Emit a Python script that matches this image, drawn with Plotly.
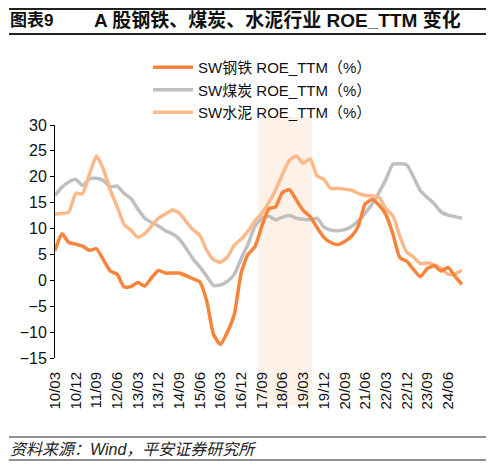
import pandas as pd
import plotly.graph_objects as go

# quarterly ROE_TTM (%), 2010-03 .. 2024-12
dates = pd.date_range("2010-03-01", "2024-12-01", freq="3MS")

steel = [5.7, 9.0, 7.3, 7.0, 6.6, 5.8, 6.1, 4.0, 1.8, 1.2,
         -1.3, -1.2, -0.4, -1.1, 0.5, 1.9, 1.4, 1.4, 1.4, 0.9,
         0.3, -0.3, -4.0, -10.5, -12.4, -10.0, -6.5, 1.5, 5.0, 6.5,
         10.5, 13.8, 14.2, 17.0, 17.5, 15.5, 13.5, 12.3, 10.2, 8.3,
         7.3, 6.9, 7.5, 8.5, 10.5, 14.8, 15.6, 14.5, 12.7, 9.0,
         4.4, 3.7, 2.1, 0.7, 2.3, 2.8, 1.8, 2.5, 0.8, -0.8]

coal = [16.4, 18.0, 19.0, 19.5, 18.3, 19.6, 19.7, 19.3, 18.1, 18.2,
        16.8, 15.8, 13.8, 12.0, 11.2, 10.5, 9.6, 9.0, 8.0, 6.2,
        4.2, 2.6, 0.8, -1.0, -0.9, -0.2, 1.2, 4.2, 7.0, 10.5,
        12.0, 12.4, 11.7, 12.2, 12.5, 12.0, 11.8, 11.7, 12.0, 10.3,
        9.7, 9.6, 9.8, 10.4, 11.5, 13.0, 14.8, 17.0, 19.5, 22.4,
        22.5, 22.3, 20.0, 17.3, 16.0, 14.8, 13.2, 12.6, 12.3, 12.0]

cement = [12.8, 12.9, 13.2, 16.8, 16.7, 20.5, 24.0, 21.5, 17.5, 14.2,
          10.8, 9.7, 8.3, 9.0, 10.5, 12.0, 12.8, 13.6, 13.0, 11.4,
          9.8, 8.7, 5.8, 4.0, 3.5, 4.5, 6.8, 8.0, 9.5, 11.5,
          13.0, 15.0, 17.5, 20.5, 23.2, 24.0, 22.6, 23.5, 20.2, 19.5,
          17.7, 17.8, 17.6, 17.4, 16.8, 16.4, 16.3, 16.0, 13.8, 12.5,
          8.5, 5.5, 4.5, 3.2, 3.4, 3.0, 2.3, 1.2, 1.2, 2.0]

names = ["SW钢铁 ROE_TTM（%）", "SW煤炭 ROE_TTM（%）", "SW水泥 ROE_TTM（%）"]
colors = ["#F7843A", "#BFBFBF", "#FBB98A"]

# page has the default 8px body margin, so the figure is drawn 8px in
OFF = 8
W, H = 494 - OFF, 468 - OFF
L, R, T, B = 47, 28, 117, 110
FONT = "Liberation Sans, Arial, Noto Sans CJK SC, sans-serif"


def px(x):
    # page x -> paper fraction
    return (x - OFF - L) / (W - L - R)


def py(y):
    # page y -> paper fraction
    return (H - B - (y - OFF)) / (H - T - B)


fig = go.Figure()

# coal under, then cement, steel on top; legend keeps steel/coal/cement
for ys, name, color, rank in [(coal, names[1], colors[1], 2),
                              (cement, names[2], colors[2], 3),
                              (steel, names[0], colors[0], 1)]:
    fig.add_trace(go.Scatter(
        x=dates, y=ys, name=name, mode="lines", legendrank=rank,
        line=dict(color=color, width=3.5, shape="spline", smoothing=0.5),
    ))

# shaded period
fig.add_shape(type="rect", xref="x", yref="paper",
              x0="2017-07-15", x1="2019-06-25", y0=py(405), y1=py(117),
              fillcolor="#FDF1E8", line_width=0, layer="below")

# title bar and footer rules
for yy, w in [(9, 2), (34, 2), (437, 1.2), (460, 1.2)]:
    fig.add_shape(type="line", xref="paper", yref="paper",
                  x0=px(9), x1=px(486), y0=py(yy), y1=py(yy),
                  line=dict(color="#222222", width=w))

fig.add_annotation(text="<b>图表9</b>", xref="paper", yref="paper",
                   x=px(8), y=py(20), xanchor="left", yanchor="middle",
                   showarrow=False, font=dict(size=17, color="#111111", family=FONT))
fig.add_annotation(text="<b>A 股钢铁、煤炭、水泥行业 ROE_TTM 变化</b>", xref="paper", yref="paper",
                   x=px(92), y=py(20), xanchor="left", yanchor="middle",
                   showarrow=False, font=dict(size=19, color="#111111", family=FONT))
fig.add_annotation(text="<i>资料来源：Wind，平安证券研究所</i>", xref="paper", yref="paper",
                   x=px(8), y=py(449), xanchor="left", yanchor="middle",
                   showarrow=False, font=dict(size=16, color="#222222", family=FONT))

x_range = ["2010-03-01", "2025-01-25"]

fig.update_layout(
    width=W, height=H,
    margin=dict(l=L, r=R, t=T, b=B),
    paper_bgcolor="white", plot_bgcolor="rgba(0,0,0,0)",
    font=dict(family=FONT, color="#111111"),
    showlegend=True,
    legend=dict(x=px(148), y=py(51), xanchor="left", yanchor="top",
                bgcolor="rgba(0,0,0,0)", font=dict(size=15, family=FONT),
                itemwidth=40, tracegroupgap=0),
    xaxis=dict(type="date", range=x_range, tickformat="%y/%m",
               dtick="M9", tick0="2010-03-01", tickangle=-90,
               showline=False, showgrid=False, zeroline=False, ticks="",
               tickfont=dict(size=15, color="#111111"), ticklabelstandoff=10),
    xaxis2=dict(type="date", range=x_range, overlaying="x", anchor="free",
                position=py(281), dtick="M9", tick0="2010-03-01",
                showline=True, linecolor="black", linewidth=1,
                ticks="outside", ticklen=4, tickcolor="black",
                showticklabels=False, showgrid=False, zeroline=False),
    yaxis=dict(range=[-15, 30], dtick=5, showline=True, linecolor="black",
               linewidth=1, ticks="outside", ticklen=4, tickcolor="black",
               showgrid=False, zeroline=False,
               tickfont=dict(size=16, color="#111111")),
)

fig.write_html("out.html", config={"displayModeBar": False})
